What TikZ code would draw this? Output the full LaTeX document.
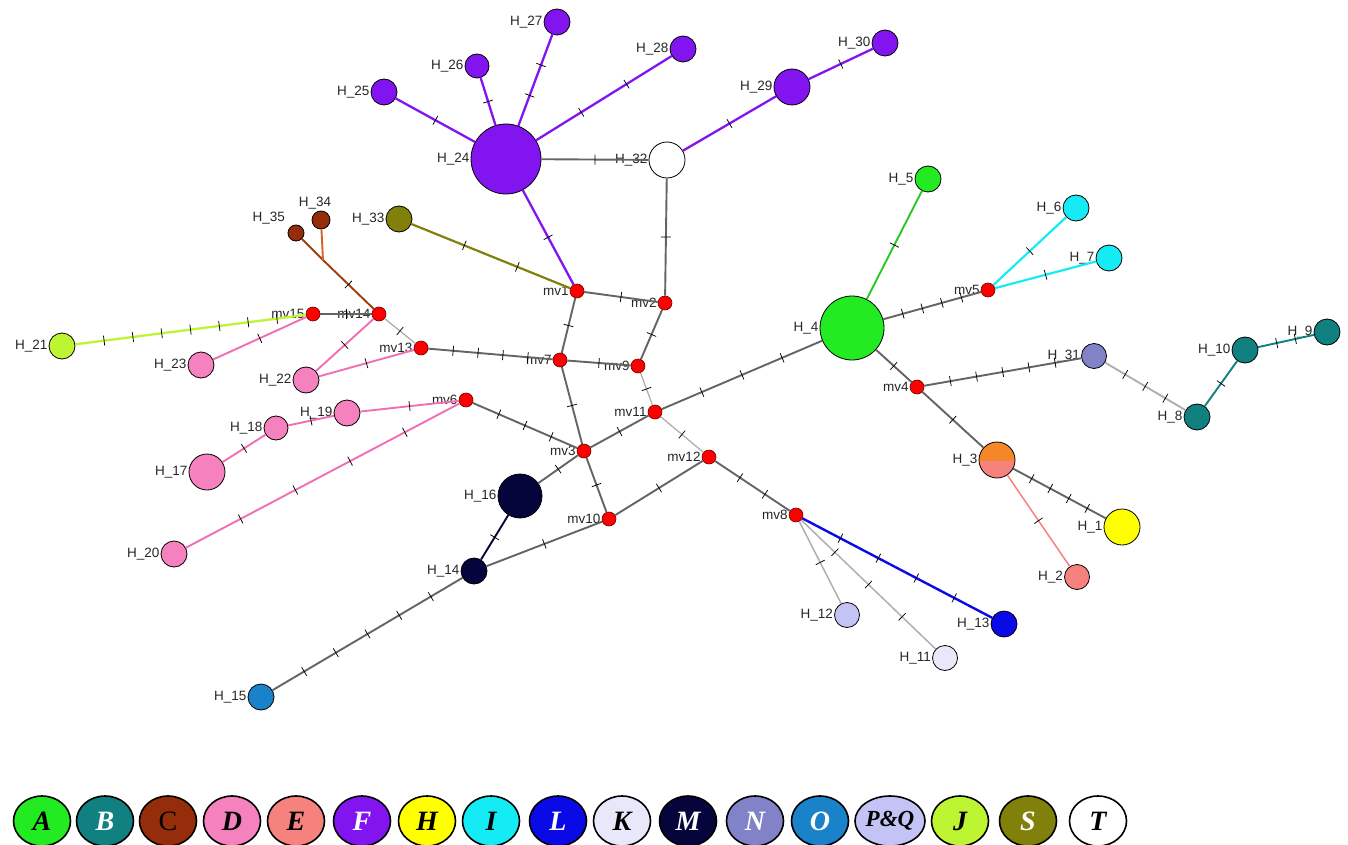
\documentclass[tikz,border=0pt]{standalone}
\usepackage{fontspec}
\setmainfont{Liberation Serif}
\newfontfamily\lblf{Liberation Sans}
\usetikzlibrary{shapes.geometric,decorations.markings}
\definecolor{cA}{RGB}{34,235,34}
\definecolor{cB}{RGB}{16,128,128}
\definecolor{cC}{RGB}{150,45,10}
\definecolor{cD}{RGB}{245,130,190}
\definecolor{cE}{RGB}{245,130,125}
\definecolor{cF}{RGB}{130,20,240}
\definecolor{cH}{RGB}{255,255,0}
\definecolor{cI}{RGB}{20,235,245}
\definecolor{cL}{RGB}{10,10,230}
\definecolor{cK}{RGB}{232,232,250}
\definecolor{cM}{RGB}{5,5,60}
\definecolor{cN}{RGB}{130,130,200}
\definecolor{cO}{RGB}{25,130,200}
\definecolor{cPQ}{RGB}{195,195,245}
\definecolor{cJ}{RGB}{190,245,50}
\definecolor{cS}{RGB}{128,128,10}
\definecolor{cOr}{RGB}{245,135,40}
\definecolor{gline}{RGB}{100,100,100}
\definecolor{lline}{RGB}{175,175,175}
\definecolor{pline}{RGB}{240,110,180}
\definecolor{brline}{RGB}{160,60,10}
\definecolor{brlight}{RGB}{210,100,40}
\definecolor{grline}{RGB}{40,200,40}
\newcommand\tickmk{\draw[black,line width=0.75pt,solid] (0pt,-5pt) -- (0pt,5pt);}
\begin{document}
\begin{tikzpicture}[x=1pt,y=-1pt,
  hap/.style={circle,draw=black,line width=0.8pt,inner sep=0pt,minimum size=#1},
  mv/.style={circle,draw={rgb,255:red,110;green,0;blue,0},fill=red,line width=0.6pt,inner sep=0pt,minimum size=14pt},
  lbl/.style={font=\lblf\fontsize{13.5}{15}\selectfont,text=black!85,inner sep=1pt},
  e/.style={draw=#1,line width=1.9pt},
  t1/.style={postaction={decorate,decoration={markings,mark=at position 0.5 with {\tickmk}}}},
  t2/.style={postaction={decorate,decoration={markings,mark=at position 0.333 with {\tickmk},mark=at position 0.667 with {\tickmk}}}},
  t3/.style={postaction={decorate,decoration={markings,mark=at position 0.25 with {\tickmk},mark=at position 0.5 with {\tickmk},mark=at position 0.75 with {\tickmk}}}},
  t4/.style={postaction={decorate,decoration={markings,mark=at position 0.2 with {\tickmk},mark=at position 0.4 with {\tickmk},mark=at position 0.6 with {\tickmk},mark=at position 0.8 with {\tickmk}}}},
  t5/.style={postaction={decorate,decoration={markings,mark=at position 0.1667 with {\tickmk},mark=at position 0.3333 with {\tickmk},mark=at position 0.5 with {\tickmk},mark=at position 0.6667 with {\tickmk},mark=at position 0.8333 with {\tickmk}}}},
  t7/.style={postaction={decorate,decoration={markings,mark=at position 0.125 with {\tickmk},mark=at position 0.25 with {\tickmk},mark=at position 0.375 with {\tickmk},mark=at position 0.5 with {\tickmk},mark=at position 0.625 with {\tickmk},mark=at position 0.75 with {\tickmk},mark=at position 0.875 with {\tickmk}}}},
  leg/.style={ellipse,draw=black,line width=1.6pt,inner sep=0pt,minimum width=57pt,minimum height=50pt,font=\fontsize{28}{30}\selectfont\bfseries\itshape}
]
\useasboundingbox (0,0) rectangle (1348,845);
% H_3 two-colour fill
\fill[cE] (997,460) circle (18pt);
\begin{scope}
\clip (975,436) rectangle (1020,460);
\fill[cOr] (997,460) circle (18pt);
\end{scope}
% haplotype nodes
\node[hap=26pt,fill=cF,label={[lbl]left:H\_27}] (H27) at (557,22) {};
\node[hap=26pt,fill=cF,label={[lbl]left:H\_28}] (H28) at (683,49) {};
\node[hap=24pt,fill=cF,label={[lbl]left:H\_26}] (H26) at (477,66) {};
\node[hap=26pt,fill=cF,label={[lbl]left:H\_25}] (H25) at (384,92) {};
\node[hap=70pt,fill=cF,label={[lbl]left:H\_24}] (H24) at (506,159) {};
\node[hap=36pt,fill=white,label={[lbl]left:H\_32}] (H32) at (667,160) {};
\node[hap=36pt,fill=cF,label={[lbl]left:H\_29}] (H29) at (792,87) {};
\node[hap=26pt,fill=cF,label={[lbl]left:H\_30}] (H30) at (885,43) {};
\node[hap=26pt,fill=cS,label={[lbl]left:H\_33}] (H33) at (399,219) {};
\node[hap=18pt,fill=cC,label={[lbl,xshift=-6pt]above:H\_34}] (H34) at (321,220) {};
\node[hap=16pt,fill=cC,label={[lbl,xshift=-4pt,yshift=2pt]above left:H\_35}] (H35) at (296,233) {};
\node[hap=26pt,fill=cA,label={[lbl]left:H\_5}] (H5) at (928,179) {};
\node[hap=26pt,fill=cI,label={[lbl]left:H\_6}] (H6) at (1076,208) {};
\node[hap=26pt,fill=cI,label={[lbl]left:H\_7}] (H7) at (1109,258) {};
\node[hap=64pt,fill=cA,label={[lbl]left:H\_4}] (H4) at (852,328) {};
\node[hap=26pt,fill=cJ,label={[lbl]left:H\_21}] (H21) at (62,346) {};
\node[hap=26pt,fill=cD,label={[lbl]left:H\_23}] (H23) at (201,365) {};
\node[hap=26pt,fill=cD,label={[lbl]left:H\_22}] (H22) at (306,380) {};
\node[hap=26pt,fill=cD,label={[lbl]left:H\_19}] (H19) at (347,413) {};
\node[hap=24pt,fill=cD,label={[lbl]left:H\_18}] (H18) at (276,428) {};
\node[hap=36pt,fill=cD,label={[lbl]left:H\_17}] (H17) at (207,472) {};
\node[hap=26pt,fill=cD,label={[lbl]left:H\_20}] (H20) at (174,554) {};
\node[hap=44pt,fill=cM,label={[lbl]left:H\_16}] (H16) at (520,496) {};
\node[hap=26pt,fill=cM,label={[lbl]left:H\_14}] (H14) at (474,571) {};
\node[hap=26pt,fill=cO,label={[lbl]left:H\_15}] (H15) at (261,697) {};
\node[hap=25pt,fill=cN,label={[lbl]left:H\_31}] (H31) at (1094,356) {};
\node[hap=26pt,fill=cB,label={[lbl]left:H\_10}] (H10) at (1245,350) {};
\node[hap=26pt,fill=cB,label={[lbl]left:H\_9}] (H9) at (1327,332) {};
\node[hap=26pt,fill=cB,label={[lbl]left:H\_8}] (H8) at (1197,417) {};
\node[hap=36pt,label={[lbl]left:H\_3}] (H3) at (997,460) {};
\node[hap=36pt,fill=cH,label={[lbl]left:H\_1}] (H1) at (1122,527) {};
\node[hap=25pt,fill=cE,label={[lbl]left:H\_2}] (H2) at (1077,577) {};
\node[hap=25pt,fill=cPQ,label={[lbl]left:H\_12}] (H12) at (847,615) {};
\node[hap=25pt,fill=cK,label={[lbl]left:H\_11}] (H11) at (945,658) {};
\node[hap=26pt,fill=cL,label={[lbl]left:H\_13}] (H13) at (1004,624) {};
% median vectors
\node[mv,label={[lbl]left:mv1}] (mv1) at (577,291) {};
\node[mv,label={[lbl]left:mv2}] (mv2) at (665,303) {};
\node[mv,label={[lbl]left:mv3}] (mv3) at (584,451) {};
\node[mv,label={[lbl]left:mv4}] (mv4) at (917,387) {};
\node[mv,label={[lbl]left:mv5}] (mv5) at (988,290) {};
\node[mv,label={[lbl]left:mv6}] (mv6) at (466,400) {};
\node[mv,label={[lbl]left:mv7}] (mv7) at (560,360) {};
\node[mv,label={[lbl]left:mv8}] (mv8) at (796,515) {};
\node[mv,label={[lbl]left:mv9}] (mv9) at (638,366) {};
\node[mv,label={[lbl]left:mv10}] (mv10) at (609,519) {};
\node[mv,label={[lbl]left:mv11}] (mv11) at (655,412) {};
\node[mv,label={[lbl]left:mv12}] (mv12) at (709,457) {};
\node[mv,label={[lbl]left:mv13}] (mv13) at (421,348) {};
\node[mv,label={[lbl]left:mv14}] (mv14) at (379,314) {};
\node[mv,label={[lbl]left:mv15}] (mv15) at (313,314) {};
\coordinate (jC) at (323,260);
% edges
\draw[e=cF,line width=2.3pt,t1] (H24) -- (H25);
\draw[e=cF,line width=2.3pt,t1] (H24) -- (H26);
\draw[e=cF,line width=2.3pt,t2] (H24) -- (H27);
\draw[e=cF,line width=2.3pt,t2] (H24) -- (H28);
\draw[e=gline,t1] (H24) -- (H32);
\draw[e=cF,line width=2.3pt,t1] (H32) -- (H29);
\draw[e=cF,line width=2.3pt,t1] (H29) -- (H30);
\draw[e=cF,line width=2.3pt,t1] (H24) -- (mv1);
\draw[e=cS,line width=2.2pt,t2] (H33) -- (mv1);
\draw[e=gline,t1] (H32) -- (mv2);
\draw[e=gline,t1] (mv1) -- (mv2);
\draw[e=gline,t1] (mv1) -- (mv7);
\draw[e=gline,t1] (mv2) -- (mv9);
\draw[e=gline,t1] (mv7) -- (mv9);
\draw[e=gline,t4] (mv13) -- (mv7);
\draw[e=lline,line width=1.3pt,t1] (mv14) -- (mv13);
\draw[e=gline,t1] (mv15) -- (mv14);
\draw[e=cJ,line width=2.3pt,t7] (H21) -- (mv15);
\draw[e=pline,t1] (H23) -- (mv15);
\draw[e=pline,t1] (H22) -- (mv14);
\draw[e=pline,t1] (H22) -- (mv13);
\draw[e=brline,t1] (mv14) -- (jC);
\draw[e=brline] (jC) -- (H35);
\draw[e=brlight] (jC) -- (H34);
\draw[e=pline,t1] (mv6) -- (H19);
\draw[e=pline,t1] (H19) -- (H18);
\draw[e=pline,t1] (H18) -- (H17);
\draw[e=pline,t4] (mv6) -- (H20);
\draw[e=gline,t3] (mv6) -- (mv3);
\draw[e=gline,t1] (mv7) -- (mv3);
\draw[e=lline,line width=1.3pt,t1] (mv9) -- (mv11);
\draw[e=gline,t1] (mv11) -- (mv3);
\draw[e=gline,t3] (mv11) -- (H4);
\draw[e=lline,line width=1.3pt,t1] (mv11) -- (mv12);
\draw[e=gline,t1] (mv3) -- (mv10);
\draw[e=gline,t1] (mv3) -- (H16);
\draw[e=cM,t1] (H16) -- (H14);
\draw[e=gline,t1] (mv10) -- (mv12);
\draw[e=gline,t1] (mv10) -- (H14);
\draw[e=gline,t5] (H14) -- (H15);
\draw[e=gline,t2] (mv12) -- (mv8);
\draw[e=cL,line width=2.4pt,t4] (mv8) -- (H13);
\draw[e=lline,line width=1.5pt,t1] (mv8) -- (H12);
\draw[e=lline,line width=1.5pt,t3] (mv8) -- (H11);
\draw[e=grline,t1] (H4) -- (H5);
\draw[e=gline,t4] (H4) -- (mv5);
\draw[e=cI,line width=2.2pt,t1] (mv5) -- (H6);
\draw[e=cI,line width=2.2pt,t1] (mv5) -- (H7);
\draw[e=gline,t1] (H4) -- (mv4);
\draw[e=gline,t5] (mv4) -- (H31);
\draw[e=lline,t3] (H31) -- (H8);
\draw[e=cB,t1] (H8) -- (H10);
\draw[e=cB,t2] (H10) -- (H9);
\draw[e=gline,t1] (mv4) -- (H3);
\draw[e=gline,t4] (H3) -- (H1);
\draw[e=cE,line width=1.5pt,t1] (H3) -- (H2);
% legend
\node[leg,fill=cA] (lA) at (42,821) {A};
\node[leg,fill=cB,text=white] (lB) at (105,821) {B};
\node[leg,fill=cC,font=\fontsize{28}{30}\selectfont] (lC) at (168,821) {C};
\node[leg,fill=cD] (lD) at (232,821) {D};
\node[leg,fill=cE] (lE) at (296,821) {E};
\node[leg,fill=cF,text=white] (lF) at (362,821) {F};
\node[leg,fill=cH] (lH) at (427,821) {H};
\node[leg,fill=cI] (lI) at (491,821) {I};
\node[leg,fill=cL,text=white] (lL) at (558,821) {L};
\node[leg,fill=cK] (lK) at (622,821) {K};
\node[leg,fill=cM,text=white] (lM) at (688,821) {M};
\node[leg,fill=cN,text=white] (lN) at (755,821) {N};
\node[leg,fill=cO,text=white] (lO) at (820,821) {O};
\node[leg,fill=cPQ,minimum width=70pt,font=\fontsize{23}{25}\selectfont\bfseries\itshape] (lPQ) at (890,821) {P\&Q};
\node[leg,fill=cJ] (lJ) at (960,821) {J};
\node[leg,fill=cS,text=white] (lS) at (1028,821) {S};
\node[leg,fill=white] (lT) at (1098,821) {T};
\end{tikzpicture}
\end{document}
